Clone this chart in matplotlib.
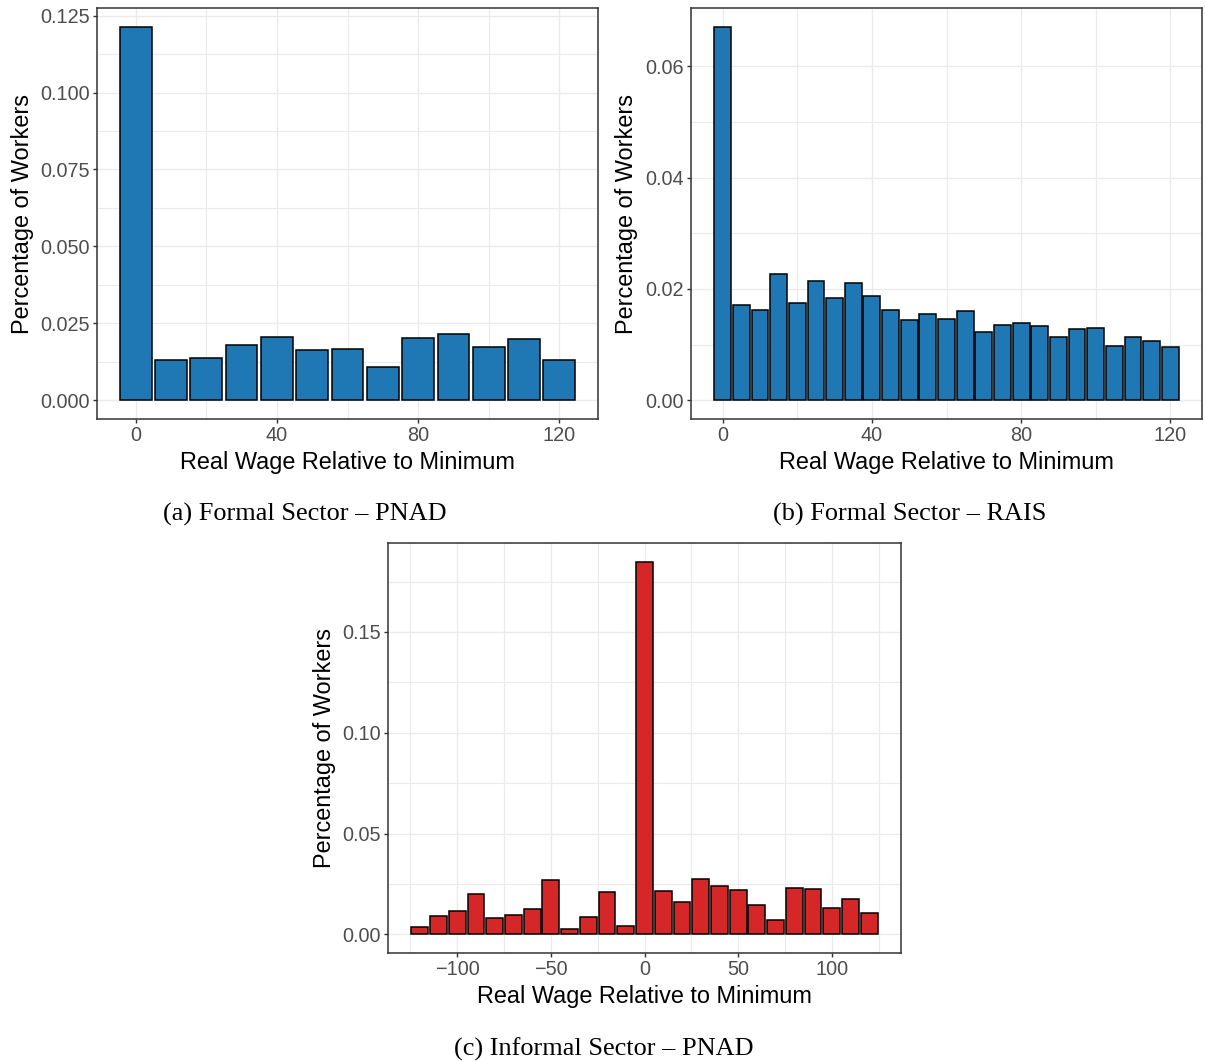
import matplotlib
matplotlib.use("Agg")
import matplotlib.pyplot as plt
from matplotlib.ticker import FixedLocator

W, H, DPI = 1205, 1061, 100

# Share of workers by real-wage bin (bin centres, relative to the minimum)
formal_pnad_x = list(range(0, 130, 10))
formal_pnad_y = [0.1214, 0.0131, 0.0138, 0.0179, 0.0205, 0.0165, 0.0168,
                 0.0108, 0.0203, 0.0214, 0.0172, 0.0199, 0.0130]

formal_rais_x = list(range(0, 125, 5))
formal_rais_y = [0.0671, 0.0172, 0.0163, 0.0226, 0.0174, 0.0214, 0.0183,
                 0.0210, 0.0187, 0.0162, 0.0145, 0.0155, 0.0146, 0.0160,
                 0.0122, 0.0136, 0.0138, 0.0134, 0.0114, 0.0128, 0.0130,
                 0.0098, 0.0114, 0.0107, 0.0095]

informal_pnad_x = list(range(-120, 130, 10))
informal_pnad_y = [0.0036, 0.0092, 0.0117, 0.0199, 0.0082, 0.0094, 0.0127,
                   0.0268, 0.0028, 0.0086, 0.0209, 0.0040, 0.1849, 0.0217,
                   0.0160, 0.0276, 0.0242, 0.0222, 0.0148, 0.0069, 0.0232,
                   0.0224, 0.0130, 0.0173, 0.0104]

x_ticks_formal = [0, 40, 80, 120]
x_ticks_informal = [-100, -50, 0, 50, 100]
y_ticks_a = [0.000, 0.025, 0.050, 0.075, 0.100, 0.125]
y_ticks_b = [0.00, 0.02, 0.04, 0.06]
y_ticks_c = [0.00, 0.05, 0.10, 0.15]

x_title = "Real Wage Relative to Minimum"
y_title = "Percentage of Workers"
captions = ["(a) Formal Sector \u2013 PNAD",
            "(b) Formal Sector \u2013 RAIS",
            "(c) Informal Sector \u2013 PNAD"]

BLUE = "#1F77B4"
RED = "#D62728"
GRID = "#EBEBEB"
FRAME = "#333333"
TICKTXT = "#4D4D4D"
PX = 72.0 / DPI  # points per pixel

plt.rcParams["font.family"] = ["Liberation Sans", "DejaVu Sans"]

fig = plt.figure(figsize=(W / DPI, H / DPI), dpi=DPI)
fig.patch.set_facecolor("white")


def rect(left, top, right, bottom):
    return [left / W, 1 - bottom / H, (right - left) / W, (bottom - top) / H]


def panel(box, xs, ys, binw, color, xticks, yticks, yfmt, xminor, yminor,
          ytitle_x):
    ax = fig.add_axes(rect(*box))
    bw = 0.9 * binw
    ax.bar(xs, ys, width=bw, color=color, edgecolor="black",
           linewidth=1.1, zorder=3)
    lo, hi = xs[0] - bw / 2, xs[-1] + bw / 2
    pad = 0.05 * (hi - lo)
    ax.set_xlim(lo - pad, hi + pad)
    top = max(ys)
    ax.set_ylim(-0.05 * top, top * 1.05)

    ax.xaxis.set_major_locator(FixedLocator(xticks))
    ax.yaxis.set_major_locator(FixedLocator(yticks))
    ax.xaxis.set_minor_locator(FixedLocator(xminor))
    ax.yaxis.set_minor_locator(FixedLocator(yminor))
    ax.set_xticklabels([str(v).replace("-", "\u2212") for v in xticks])
    ax.set_yticklabels([yfmt.format(v) for v in yticks])

    ax.grid(which="major", color=GRID, linewidth=1.0, zorder=0)
    ax.grid(which="minor", color=GRID, linewidth=0.8, zorder=0)
    ax.set_axisbelow(True)
    ax.tick_params(which="major", length=4 * PX, width=1.0,
                   color=FRAME, labelsize=14.3, labelcolor=TICKTXT,
                   pad=3 * PX)
    ax.tick_params(which="minor", length=0)
    for s in ax.spines.values():
        s.set_color(FRAME)
        s.set_linewidth(1.1)

    left, topp, right, bottom = box
    cx = (left + right) / 2
    fig.text(cx / W, 1 - (469 + bottom - 419) / H, x_title,
             ha="center", va="baseline", fontsize=16.9, color="black")
    cy = (topp + bottom) / 2
    fig.text(ytitle_x / W, 1 - cy / H, y_title, rotation=90,
             rotation_mode="anchor", ha="center", va="baseline",
             fontsize=16.9, color="black")
    return ax


box_a = (97, 8, 598, 419)
box_b = (691, 8, 1202, 419)
box_c = (388, 543, 901, 953)

panel(box_a, formal_pnad_x, formal_pnad_y, 10, BLUE, x_ticks_formal,
      y_ticks_a, "{:.3f}", [20, 60, 100],
      [0.0125, 0.0375, 0.0625, 0.0875, 0.1125], 29)
panel(box_b, formal_rais_x, formal_rais_y, 5, BLUE, x_ticks_formal,
      y_ticks_b, "{:.2f}", [20, 60, 100], [0.01, 0.03, 0.05], 633)
panel(box_c, informal_pnad_x, informal_pnad_y, 10, RED, x_ticks_informal,
      y_ticks_c, "{:.2f}", [-125, -75, -25, 25, 75, 125],
      [0.025, 0.075, 0.125, 0.175], 331)

cap_kw = dict(ha="center", va="baseline", fontsize=18.9, color="black",
              family=["Liberation Serif", "DejaVu Serif"])
fig.text(305 / W, 1 - 521 / H, captions[0], **cap_kw)
fig.text(910 / W, 1 - 521 / H, captions[1], **cap_kw)
fig.text(604 / W, 1 - 1056 / H, captions[2], **cap_kw)

fig.savefig("out.png", dpi=DPI, facecolor="white")
